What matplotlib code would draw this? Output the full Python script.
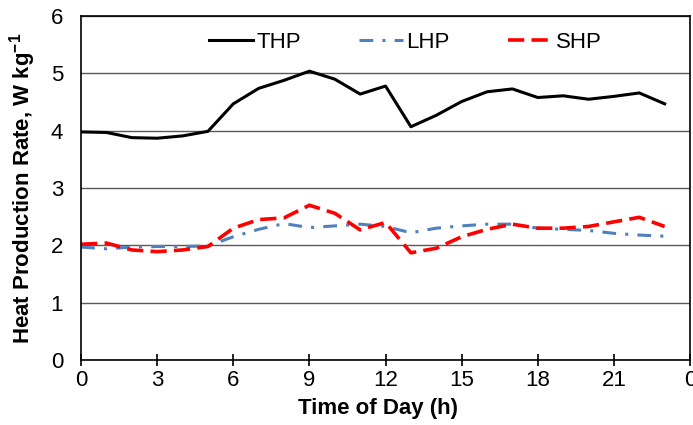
import numpy as np
import matplotlib.pyplot as plt

plt.rcParams['font.family'] = ['Liberation Sans', 'DejaVu Sans']
plt.rcParams['mathtext.fontset'] = 'custom'
plt.rcParams['mathtext.rm'] = 'Liberation Sans'
plt.rcParams['mathtext.bf'] = 'Liberation Sans:bold'

hours = list(range(24))
thp = [3.98, 3.97, 3.88, 3.87, 3.91, 3.99, 4.47, 4.74, 4.88, 5.04, 4.90, 4.64,
       4.78, 4.07, 4.27, 4.51, 4.68, 4.73, 4.58, 4.61, 4.55, 4.60, 4.66, 4.47]
lhp = [1.97, 1.94, 1.97, 1.98, 1.98, 1.99, 2.15, 2.28, 2.38, 2.31, 2.34, 2.37,
       2.33, 2.22, 2.30, 2.34, 2.37, 2.37, 2.30, 2.28, 2.26, 2.21, 2.18, 2.16]
shp = [2.02, 2.04, 1.92, 1.89, 1.92, 1.98, 2.30, 2.45, 2.48, 2.70, 2.56, 2.27,
       2.40, 1.87, 1.95, 2.15, 2.28, 2.37, 2.30, 2.30, 2.33, 2.41, 2.49, 2.33]
xticks = [0, 3, 6, 9, 12, 15, 18, 21, 24]
xticklabels = ['0', '3', '6', '9', '12', '15', '18', '21', '0']

fig = plt.figure(figsize=(6.93, 4.25), dpi=100)
ax = fig.add_axes([0.117, 0.153, 0.8787, 0.809])

ax.plot(hours, thp, color='black', lw=2.2, label='THP')
ax.plot(hours, lhp, color='#4f81bd', lw=2.2, dashes=(4.5, 3, 1, 3), label='LHP')
ax.plot(hours, shp, color='#ff0000', lw=2.6, dashes=(4.5, 2), label='SHP')

ax.set_xlim(0, 24)
ax.set_ylim(0, 6)
ax.set_xticks(xticks)
ax.set_xticklabels(xticklabels)
ax.set_yticks(range(7))
ax.yaxis.grid(True, color='#595959', lw=1.0)
ax.set_axisbelow(True)

ax.tick_params(axis='x', direction='inout', length=9, width=1.2, labelsize=16, pad=3)
ax.tick_params(axis='y', length=0, labelsize=16, pad=13)
for s in ax.spines.values():
    s.set_linewidth(1.2)

ax.set_xlabel('Time of Day (h)', fontsize=16, fontweight='bold')
ax.xaxis.set_label_coords(0.487, -0.11)
ax.set_ylabel('Heat Production Rate, W kg$^{\\mathbf{-1}}$', fontsize=16,
              fontweight='bold', labelpad=9)

ax.legend(loc='center', ncol=3, frameon=False, fontsize=16,
          bbox_to_anchor=(0.532, 0.924), handlelength=2.0, columnspacing=2.6,
          handletextpad=0.15)

fig.savefig('out.png', dpi=100)
